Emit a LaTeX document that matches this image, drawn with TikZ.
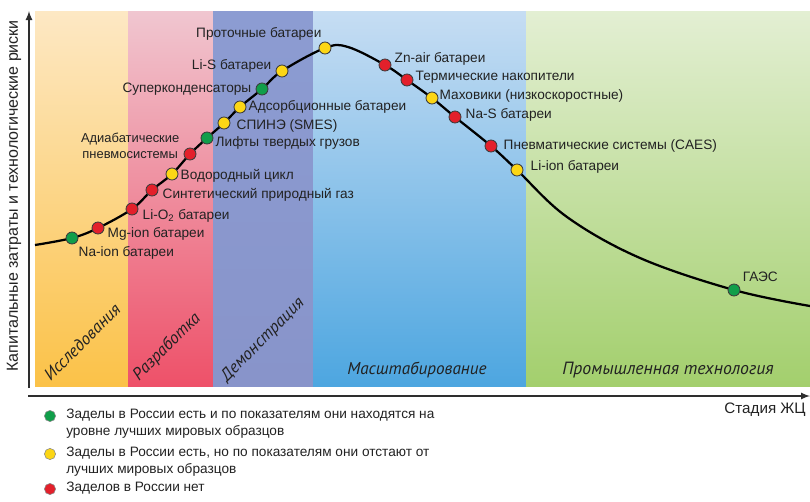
\documentclass[tikz,border=0pt]{standalone}
\usepackage{fontspec}
\setmainfont{Liberation Sans}
\newfontfamily\stagefont{PT Sans}
\usetikzlibrary{positioning,shapes.geometric}
\pgfdeclarelayer{background}
\pgfsetlayers{background,main}

\definecolor{dot-green}{HTML}{109E4A}
\definecolor{dot-yellow}{HTML}{FCD615}
\definecolor{dot-red}{HTML}{E3202B}
\definecolor{dot-edge}{HTML}{3C3C3C}
\definecolor{text-dark}{HTML}{222222}
\definecolor{axis-gray}{HTML}{2E2E2E}

\tikzstyle{tech-dot} = [circle, draw=dot-edge, line width=0.6pt, inner sep=0pt, minimum size=0.3cm]
\tikzstyle{green-dot} = [tech-dot, fill=dot-green]
\tikzstyle{yellow-dot} = [tech-dot, fill=dot-yellow]
\tikzstyle{red-dot} = [tech-dot, fill=dot-red]
\tikzstyle{tech} = [inner sep=0pt, text=text-dark, font=\fontsize{9.7}{11.5}\selectfont]
\tikzstyle{stage} = [inner sep=0pt, text=text-dark, font=\stagefont\itshape\fontsize{12.2}{14}\selectfont]
\tikzstyle{key-dot} = [circle, draw=dot-edge!60, line width=0.4pt, inner sep=0pt, minimum size=0.28cm]
\tikzstyle{key-text} = [inner sep=0pt, align=left, text=text-dark, font=\fontsize{9.7}{12}\selectfont]
\tikzstyle{axis} = [line width=1.2pt, draw=axis-gray, -latex]
\tikzstyle{curve} = [line width=1.6pt, black]

\begin{document}
\begin{tikzpicture}[x=0.025cm, y=-0.025cm]
    \useasboundingbox (0,0) rectangle (810,501);
    % technologies on the curve
    \node (na-ion) [green-dot] at (72,238) {};
    \node (mg-ion) [red-dot] at (98,228) {};
    \node (li-o2) [red-dot] at (132,209) {};
    \node (synth-gas) [red-dot] at (152,190) {};
    \node (hydrogen) [yellow-dot] at (172,174) {};
    \node (adiabatic) [red-dot] at (190,154) {};
    \node (lifts) [green-dot] at (207,138) {};
    \node (smes) [yellow-dot] at (224,123) {};
    \node (adsorption) [yellow-dot] at (240,107) {};
    \node (supercaps) [green-dot] at (262,89) {};
    \node (li-s) [yellow-dot] at (282,71) {};
    \node (flow) [yellow-dot] at (325,48) {};
    \node (zn-air) [red-dot] at (385,65) {};
    \node (thermal) [red-dot] at (407,80) {};
    \node (flywheels) [yellow-dot] at (432,98) {};
    \node (na-s) [red-dot] at (455,117) {};
    \node (caes) [red-dot] at (491,146) {};
    \node (li-ion) [yellow-dot] at (517,170) {};
    \node (phs) [green-dot] at (734,290) {};
    % labels
    \node (na-ion-text) [tech, right=0cm of na-ion, yshift=-0.375cm] {Na-ion батареи};
    \node (mg-ion-text) [tech, right=0.075cm of mg-ion, yshift=-0.15cm] {Mg-ion батареи};
    \node (li-o2-text) [tech, right=0.1cm of li-o2, yshift=-0.175cm] {Li-O\textsubscript{2} батареи};
    \node (synth-gas-text) [tech, right=0.1cm of synth-gas, yshift=-0.125cm] {Синтетический природный газ};
    \node (hydrogen-text) [tech, right=0.05cm of hydrogen, yshift=-0.05cm] {Водородный цикл};
    \node (adiabatic-text) [tech, align=center, left=0.1cm of adiabatic, yshift=0.2cm, font=\fontsize{9.2}{11}\selectfont] {Адиабатические\\пневмосистемы};
    \node (lifts-text) [tech, right=0.05cm of lifts, yshift=-0.125cm] {Лифты твердых грузов};
    \node (smes-text) [tech, right=0.15cm of smes, yshift=-0.075cm] {СПИНЭ (SMES)};
    \node (adsorption-text) [tech, right=0.05cm of adsorption] {Адсорбционные батареи};
    \node (supercaps-text) [tech, left=0.1cm of supercaps] {Суперконденсаторы};
    \node (li-s-text) [tech, left=0.1cm of li-s, yshift=0.125cm] {Li-S батареи};
    \node (flow-text) [tech, above left=0.075cm and -0.03cm of flow] {Проточные батареи};
    \node (zn-air-text) [tech, right=0.075cm of zn-air, yshift=0.15cm] {Zn-air батареи};
    \node (thermal-text) [tech, right=0.05cm of thermal, yshift=0.075cm] {Термические накопители};
    \node (flywheels-text) [tech, right=0.025cm of flywheels, yshift=0.05cm] {Маховики (низкоскоростные)};
    \node (na-s-text) [tech, right=0.1cm of na-s, yshift=0.05cm] {Na-S батареи};
    \node (caes-text) [tech, right=0.15cm of caes] {Пневматические системы (CAES)};
    \node (li-ion-text) [tech, right=0.175cm of li-ion, yshift=0.075cm] {Li-ion батареи};
    \node (phs-text) [tech, above right=0.1cm and 0.1cm of phs] {ГАЭС};
    % stages
    \node (research) [stage, rotate=45] at (82,342) {Исследования};
    \node (development) [stage, rotate=45] at (167,347) {Разработка};
    \node (demonstration) [stage, rotate=45] at (263,340) {Демонстрация};
    \node (scaling) [stage] at (417,370) {Масштабирование};
    \node (industrial) [stage, font=\stagefont\itshape\fontsize{12.6}{14}\selectfont] at (668,370) {Промышленная технология};
    % axes
    \coordinate (y-start) at (29,388);
    \coordinate (y-end) at (29,11);
    \coordinate (x-start) at (28,396);
    \coordinate (x-end) at (810,396);
    \draw [axis] (y-start) -- (y-end);
    \draw [axis] (x-start) -- (x-end);
    \node (y-label) [tech, rotate=90, font=\fontsize{11.4}{13}\selectfont] at (14,196) {Капитальные затраты и технологические риски};
    \node (x-label) [tech, anchor=east, font=\fontsize{10.8}{12}\selectfont] at (806,410) {Стадия ЖЦ};
    % legend
    \node (key-green) [key-dot, fill=dot-green] at (50,416) {};
    \node (key-yellow) [key-dot, fill=dot-yellow] at (50,454) {};
    \node (key-red) [key-dot, fill=dot-red] at (50,489) {};
    \node (key-green-text) [key-text, anchor=north west] at (66,409) {Заделы в России есть и по показателям они находятся на\\уровне лучших мировых образцов};
    \node (key-yellow-text) [key-text, anchor=north west] at (66,447) {Заделы в России есть, но по показателям они отстают от\\лучших мировых образцов};
    \node (key-red-text) [key-text, anchor=west] at (66,488) {Заделов в России нет};
    \begin{pgfonlayer}{background}
        \shade [top color={rgb,255:red,253;green,232;blue,196}, bottom color={rgb,255:red,251;green,194;blue,72}] (35,11) rectangle (128,386);
        \shade [top color={rgb,255:red,240;green,198;blue,208}, bottom color={rgb,255:red,238;green,81;blue,105}] (128,11) rectangle (213,386);
        \shade [top color={rgb,255:red,140;green,156;blue,210}, bottom color={rgb,255:red,136;green,148;blue,202}] (213,11) rectangle (313,386);
        \shade [top color={rgb,255:red,198;green,221;blue,243}, bottom color={rgb,255:red,77;green,166;blue,224}] (313,11) rectangle (526,386);
        \shade [top color={rgb,255:red,227;green,239;blue,211}, bottom color={rgb,255:red,163;green,207;blue,109}] (526,11) rectangle (810,386);
        \draw [curve] plot [smooth, tension=0.6] coordinates {(35,245) (na-ion.center) (mg-ion.center) (li-o2.center) (synth-gas.center) (hydrogen.center) (adiabatic.center) (lifts.center) (smes.center) (adsorption.center) (supercaps.center) (li-s.center) (flow.center) (348,47) (zn-air.center) (thermal.center) (flywheels.center) (na-s.center) (caes.center) (li-ion.center) (567,217) (640,258) (phs.center) (810,306)};
    \end{pgfonlayer}
\end{tikzpicture}
\end{document}
